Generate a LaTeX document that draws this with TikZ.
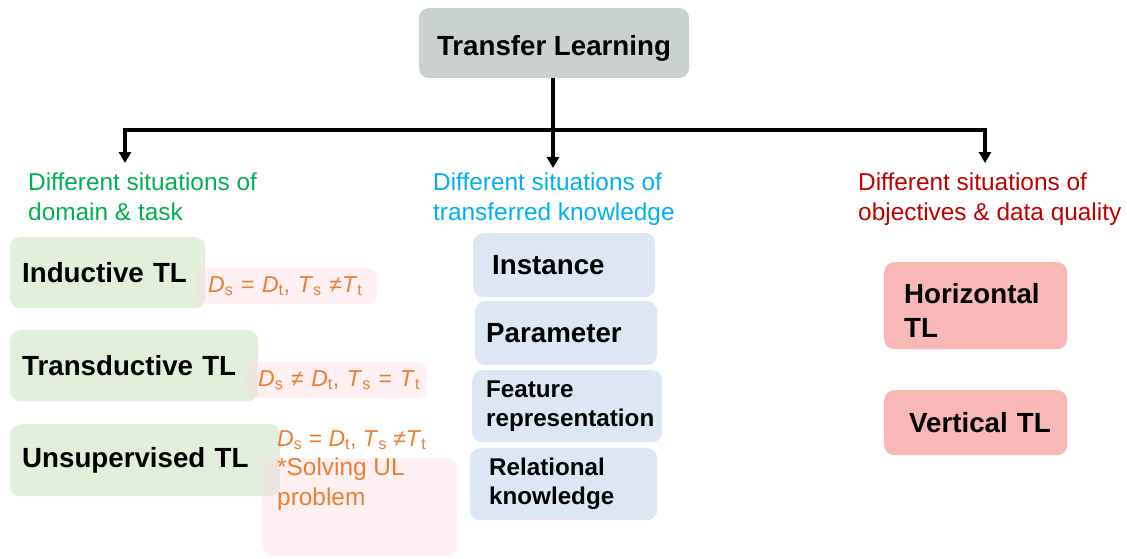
\documentclass[tikz,border=0pt]{standalone}
\usepackage{fontspec}
\setmainfont{Liberation Sans}
\usetikzlibrary{arrows.meta}
\definecolor{tlgray}{HTML}{C9D2CF}
\definecolor{tlgreenbox}{HTML}{E2EFDA}
\definecolor{tlbluebox}{HTML}{DCE7F3}
\definecolor{tlpinkbox}{HTML}{F8B8B8}
\definecolor{tlformbox}{HTML}{FCDDE5}
\definecolor{tlorange}{HTML}{ED7D31}
\definecolor{tlgreen}{HTML}{00B050}
\definecolor{tlblue}{HTML}{00B0F0}
\definecolor{tlred}{HTML}{C00000}
\newcommand{\fmlA}{\mbox{\textit{D}\textsubscript{s} = \textit{D}\textsubscript{t}, \textit{T}\textsubscript{s} ≠\textit{T}\textsubscript{t}}}
\newcommand{\fmlB}{\mbox{\textit{D}\textsubscript{s} ≠ \textit{D}\textsubscript{t}, \textit{T}\textsubscript{s} = \textit{T}\textsubscript{t}}}
\begin{document}
\begin{tikzpicture}[x=1pt,y=-1pt,
  bigfont/.style={font=\fontsize{27.7}{32}\selectfont\bfseries},
  midfont/.style={font=\fontsize{24.2}{29}\selectfont\bfseries},
  regfont/.style={font=\fontsize{24.4}{30}\selectfont},
  formfont/.style={font=\fontsize{23}{29.5}\selectfont},
  tlbox/.style={rounded corners=10pt, anchor=north west, align=left, inner ysep=0pt, text=black},
  greenbox/.style={tlbox, fill=tlgreenbox, bigfont},
  bluebox/.style={tlbox, fill=tlbluebox},
  pinkbox/.style={tlbox, fill=tlpinkbox, bigfont},
  formbox/.style={tlbox, fill=tlformbox, fill opacity=0.45, text opacity=1, formfont, text=tlorange},
  header/.style={anchor=north west, align=left, inner sep=0pt, regfont},
  conn/.style={line width=3.5pt, draw=black},
  arr/.style={conn, -{Triangle[length=11pt,width=12pt]}}
]
\useasboundingbox (0,0) rectangle (1127,558);

% top
\node[rounded corners=10pt, fill=tlgray, minimum width=270pt, minimum height=70pt, bigfont, text height=24pt, text depth=0pt] (tl) at (554,43) {Transfer Learning};

% headers
\node[header, text=tlgreen] (hg) at (28,173) {Different situations of\\domain \& task};
\node[header, text=tlblue] (hb) at (433,173) {Different situations of\\transferred knowledge};
\node[header, text=tlred] (hr) at (858,173) {Different situations of\\objectives \& data quality};

% connectors
\coordinate (j) at (553,130);
\coordinate (lj) at (125,130);
\coordinate (rj) at (985,130);
\coordinate (la) at (125,163);
\coordinate (ma) at (553,168);
\coordinate (ra) at (985,163);
\draw[conn] (tl.south -| j) -- (j);
\draw[arr] (j) -- (lj) -- (la);
\draw[arr] (j) -- (rj) -- (ra);
\draw[arr] (j) -- (ma);

% green boxes
\node[greenbox, minimum width=195pt, minimum height=71pt, inner xsep=12pt, text width=171pt] (ind) at (10,237) {Inductive TL};
\node[greenbox, minimum width=248pt, minimum height=71pt, inner xsep=12pt, text width=224pt] (tra) at (10,330) {Transductive TL};
\node[greenbox, minimum width=270pt, minimum height=72pt, inner xsep=12pt, text width=246pt] (uns) at (10,424) {Unsupervised TL};

% formula boxes
\node[formbox, minimum width=182pt, minimum height=36pt, inner xsep=13pt, text width=156pt] (f1) at (195,268) {\fmlA};
\node[formbox, minimum width=182pt, minimum height=36pt, inner xsep=13pt, text width=156pt] (f2) at (245,362) {\fmlB};
\node[formbox, minimum width=195pt, minimum height=98pt, inner sep=0pt] (f3) at (262,458) {};
\node[header, text=tlorange, font=\fontsize{24.4}{29.5}\selectfont] (u3) at (277,430) {{\fontsize{23}{29.5}\selectfont\fmlA}\\*Solving UL\\problem};

% blue boxes
\node[bluebox, bigfont, minimum width=182pt, minimum height=64pt, inner xsep=19pt, text width=144pt] (ins) at (473,233) {Instance};
\node[bluebox, bigfont, minimum width=182pt, minimum height=64pt, inner xsep=11pt, text width=160pt] (par) at (475,301) {Parameter};
\node[bluebox, midfont, minimum width=190pt, minimum height=72pt, inner xsep=14pt, text width=162pt] (fea) at (472,370) {Feature\\\mbox{representation}};
\node[bluebox, midfont, minimum width=187pt, minimum height=72pt, inner xsep=19pt, text width=149pt] (rel) at (470,448) {Relational\\knowledge};

% pink boxes
\node[pinkbox, font=\fontsize{27.7}{34}\selectfont\bfseries, minimum width=183pt, minimum height=87pt, inner xsep=20pt, text width=143pt] (hor) at (884,262) {\rule{0pt}{29pt}Horizontal\\TL};
\node[pinkbox, minimum width=183pt, minimum height=65pt, inner xsep=25pt, text width=133pt] (ver) at (884,390) {\mbox{Vertical TL}};
\end{tikzpicture}
\end{document}
